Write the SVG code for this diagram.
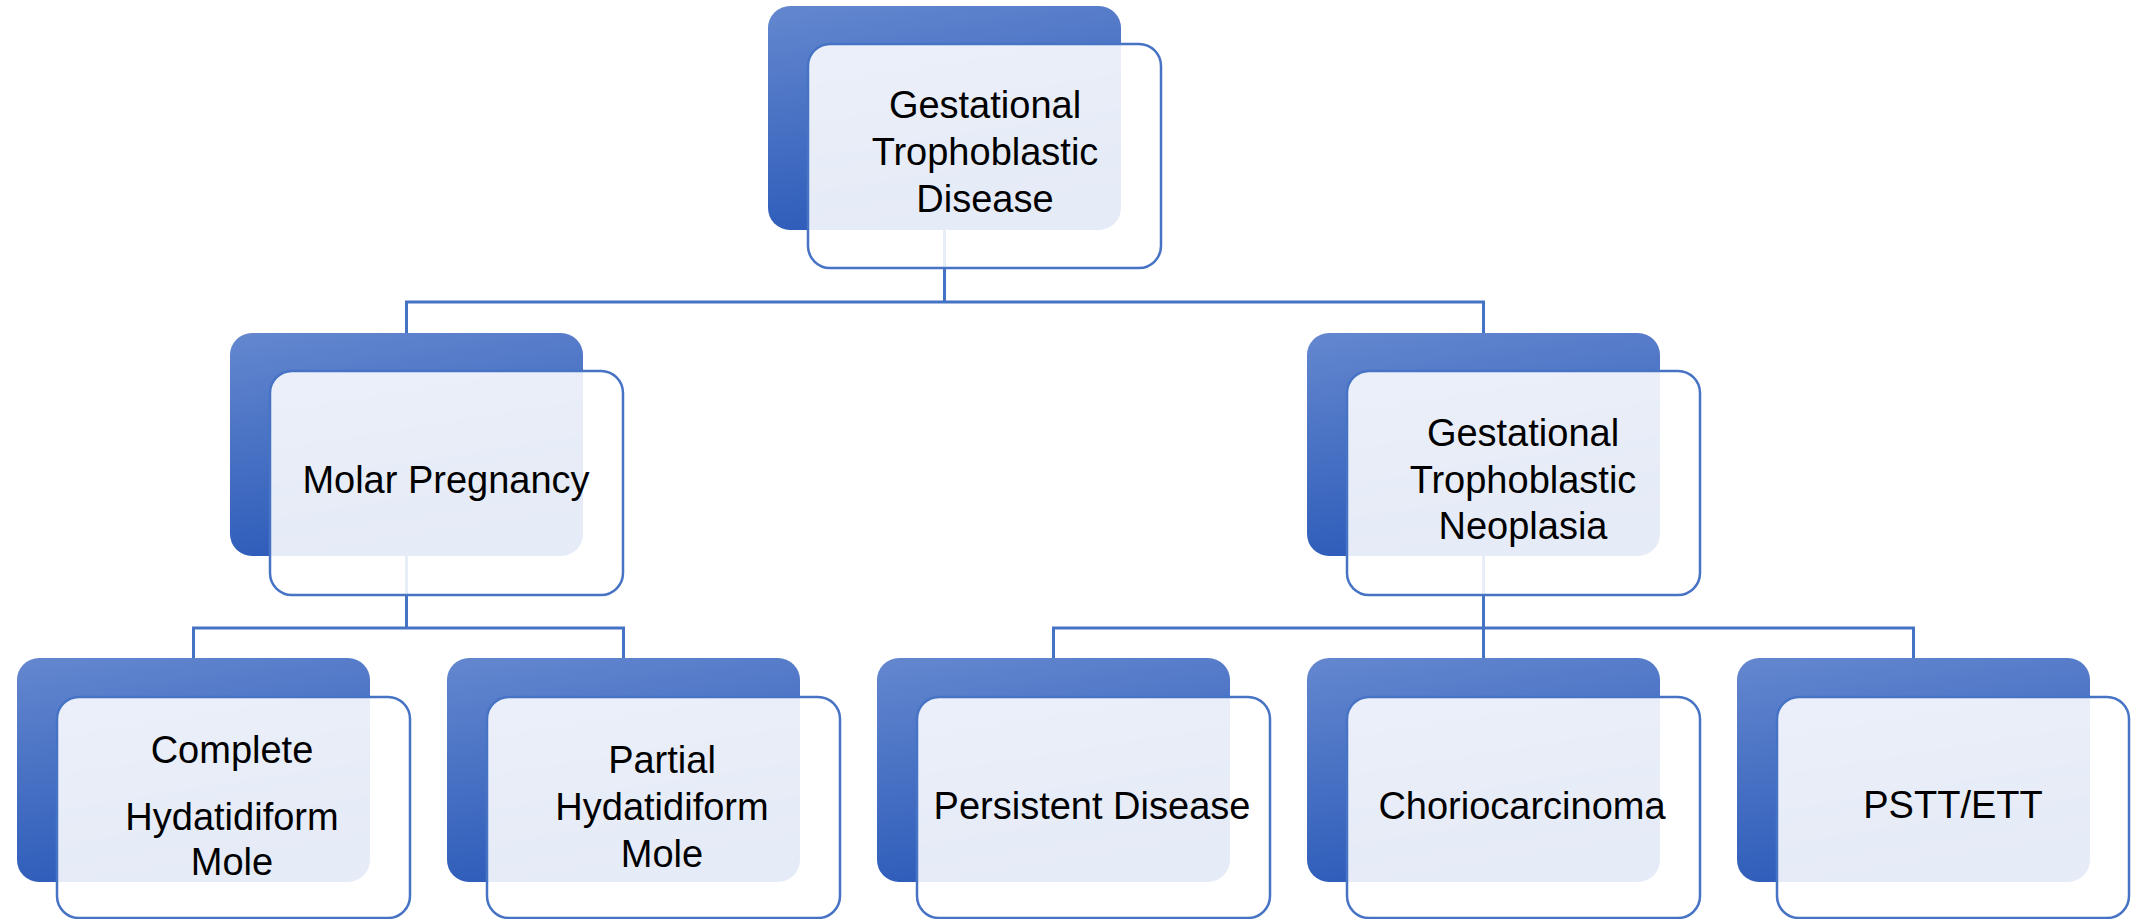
<svg xmlns="http://www.w3.org/2000/svg" width="2131" height="919" viewBox="0 0 2131 919">
<defs>
<linearGradient id="bg" x1="0" y1="0" x2="0.25" y2="1">
<stop offset="0" stop-color="#6487CF"/>
<stop offset="1" stop-color="#2D5CB9"/>
</linearGradient>
</defs>
<style>
.back{fill:url(#bg);}
.front{fill:#FFFFFF;fill-opacity:0.88;stroke:#4773C5;stroke-width:2.5;}
.conn{stroke:#4472C4;stroke-width:3;fill:none;}
text{font-family:"Liberation Sans",Arial,sans-serif;font-size:38px;fill:#000;text-anchor:middle;}
</style>
<rect width="2131" height="919" fill="#FFFFFF"/>
<g id="connectors">
<path class="conn" d="M944.5,230 V302 M406.5,333 V302 H1483.5 V333"/>
<path class="conn" d="M406.5,556 V628 M193.5,658 V628 H623.5 V658"/>
<path class="conn" d="M1483.5,556 V658 M1053.5,658 V628 H1913.5 V658"/>
</g>
<g id="node-gtd">
<rect class="back" x="768" y="6" width="353" height="224" rx="22"/>
<rect class="front" x="808" y="44" width="353" height="224" rx="22"/>
<text x="985" y="118">Gestational</text>
<text x="985" y="165">Trophoblastic</text>
<text x="985" y="212">Disease</text>
</g>
<g id="node-molar">
<rect class="back" x="230" y="333" width="353" height="223" rx="22"/>
<rect class="front" x="270" y="371" width="353" height="224" rx="22"/>
<text x="446" y="493">Molar Pregnancy</text>
</g>
<g id="node-gtn">
<rect class="back" x="1307" y="333" width="353" height="223" rx="22"/>
<rect class="front" x="1347" y="371" width="353" height="224" rx="22"/>
<text x="1523" y="446">Gestational</text>
<text x="1523" y="493">Trophoblastic</text>
<text x="1523" y="539">Neoplasia</text>
</g>
<g id="node-complete">
<rect class="back" x="17" y="658" width="353" height="224" rx="22"/>
<rect class="front" x="57" y="697" width="353" height="221" rx="22"/>
<text x="232" y="763">Complete</text>
<text x="232" y="830">Hydatidiform</text>
<text x="232" y="875">Mole</text>
</g>
<g id="node-partial">
<rect class="back" x="447" y="658" width="353" height="224" rx="22"/>
<rect class="front" x="487" y="697" width="353" height="221" rx="22"/>
<text x="662" y="773">Partial</text>
<text x="662" y="820">Hydatidiform</text>
<text x="662" y="867">Mole</text>
</g>
<g id="node-persistent">
<rect class="back" x="877" y="658" width="353" height="224" rx="22"/>
<rect class="front" x="917" y="697" width="353" height="221" rx="22"/>
<text x="1092" y="819">Persistent Disease</text>
</g>
<g id="node-chorio">
<rect class="back" x="1307" y="658" width="353" height="224" rx="22"/>
<rect class="front" x="1347" y="697" width="353" height="221" rx="22"/>
<text x="1522" y="819">Choriocarcinoma</text>
</g>
<g id="node-pstt">
<rect class="back" x="1737" y="658" width="353" height="224" rx="22"/>
<rect class="front" x="1777" y="697" width="352" height="221" rx="22"/>
<text x="1953" y="818">PSTT/ETT</text>
</g>
</svg>
